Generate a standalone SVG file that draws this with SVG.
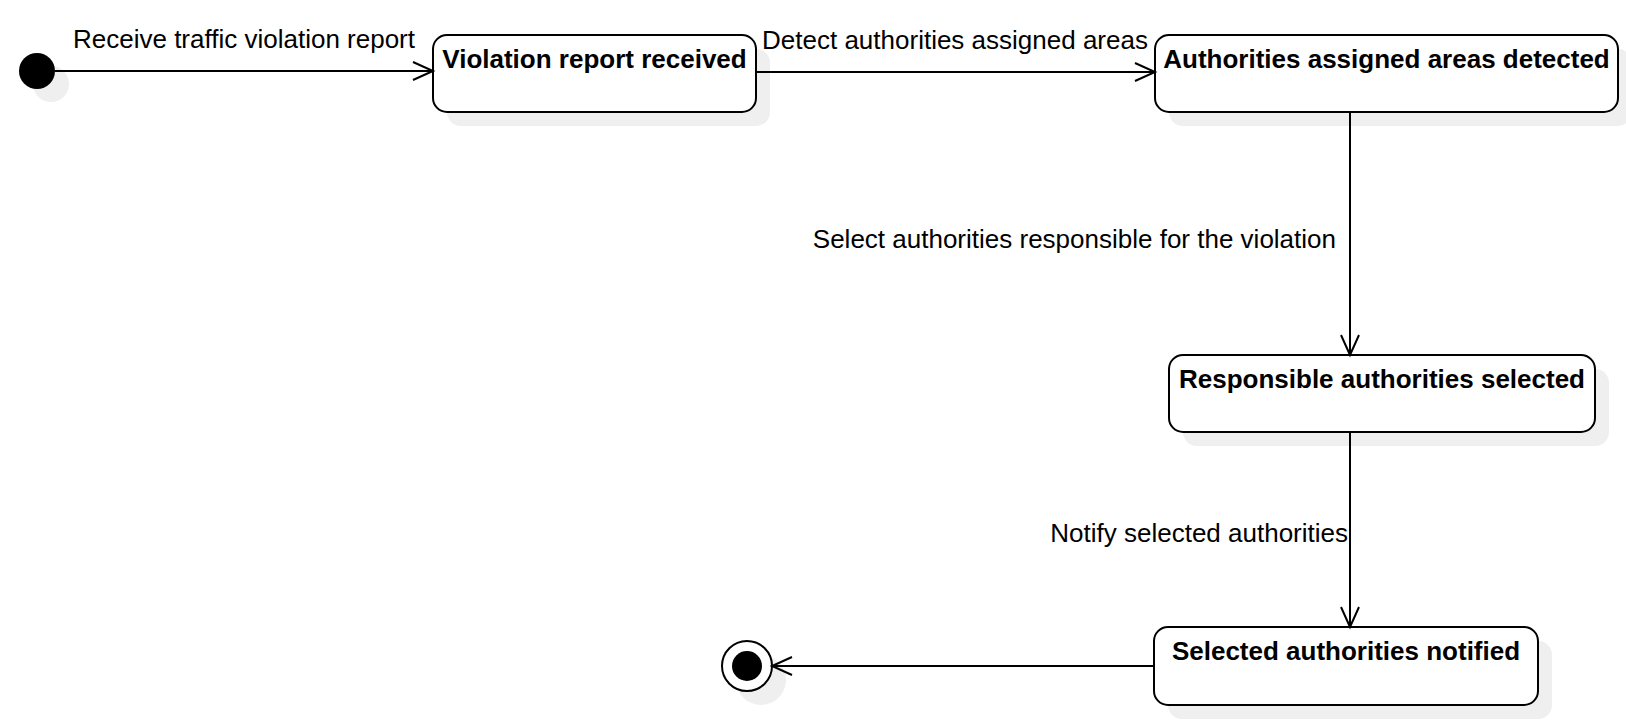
<svg xmlns="http://www.w3.org/2000/svg" width="1626" height="720" viewBox="0 0 1626 720">
<style>
.bg{fill:#ffffff}
.shadow{fill:#efefef;stroke:none}
.state{fill:#ffffff;stroke:#000000;stroke-width:2}
.title{font-family:"Liberation Sans",Arial,sans-serif;font-weight:bold;font-size:26px;fill:#000000;text-anchor:middle}
.lbl{font-family:"Liberation Sans",Arial,sans-serif;font-size:26px;fill:#000000}
.edge{fill:none;stroke:#000000;stroke-width:2}
</style>
<defs>
<marker id="open" markerUnits="userSpaceOnUse" markerWidth="24" markerHeight="22" refX="20" refY="10" orient="auto" overflow="visible">
<path d="M0,1 L20,10 L0,19" fill="none" stroke="#000000" stroke-width="2"/>
</marker>
</defs>
<rect class="bg" x="0" y="0" width="1626" height="720"/>
<g id="initial">
<circle class="shadow" cx="51" cy="84" r="18"/>
<circle cx="37" cy="71" r="18" fill="#000000"/>
</g>
<g id="s1">
<rect class="shadow" x="447" y="49" width="323" height="77" rx="14"/>
<rect class="state" x="433" y="35" width="323" height="77" rx="14"/>
<text class="title" x="594.5" y="68">Violation report received</text>
</g>
<g id="s2">
<rect class="shadow" x="1169" y="49" width="463" height="77" rx="14"/>
<rect class="state" x="1155" y="35" width="463" height="77" rx="14"/>
<text class="title" x="1386.5" y="68">Authorities assigned areas detected</text>
</g>
<g id="s3">
<rect class="shadow" x="1183" y="369" width="426" height="77" rx="14"/>
<rect class="state" x="1169" y="355" width="426" height="77" rx="14"/>
<text class="title" x="1382" y="388">Responsible authorities selected</text>
</g>
<g id="s4">
<rect class="shadow" x="1168" y="641" width="384" height="78" rx="14"/>
<rect class="state" x="1154" y="627" width="384" height="78" rx="14"/>
<text class="title" x="1346" y="660">Selected authorities notified</text>
</g>
<g id="final">
<circle class="shadow" cx="761" cy="680" r="25"/>
<circle cx="747" cy="666" r="25" fill="#ffffff" stroke="#000000" stroke-width="2"/>
<circle cx="747" cy="666" r="15" fill="#000000"/>
</g>
<g id="connectors">
<line class="edge" x1="55" y1="71" x2="433" y2="71" marker-end="url(#open)"/>
<text class="lbl" x="244" y="48" text-anchor="middle">Receive traffic violation report</text>
<line class="edge" x1="756" y1="72" x2="1155" y2="72" marker-end="url(#open)"/>
<text class="lbl" x="955" y="49" text-anchor="middle">Detect authorities assigned areas</text>
<line class="edge" x1="1350" y1="112" x2="1350" y2="355" marker-end="url(#open)"/>
<text class="lbl" x="1336" y="248" text-anchor="end">Select authorities responsible for the violation</text>
<line class="edge" x1="1350" y1="432" x2="1350" y2="627" marker-end="url(#open)"/>
<text class="lbl" x="1348" y="542" text-anchor="end">Notify selected authorities</text>
<line class="edge" x1="1154" y1="666" x2="772" y2="666" marker-end="url(#open)"/>
</g>
</svg>
